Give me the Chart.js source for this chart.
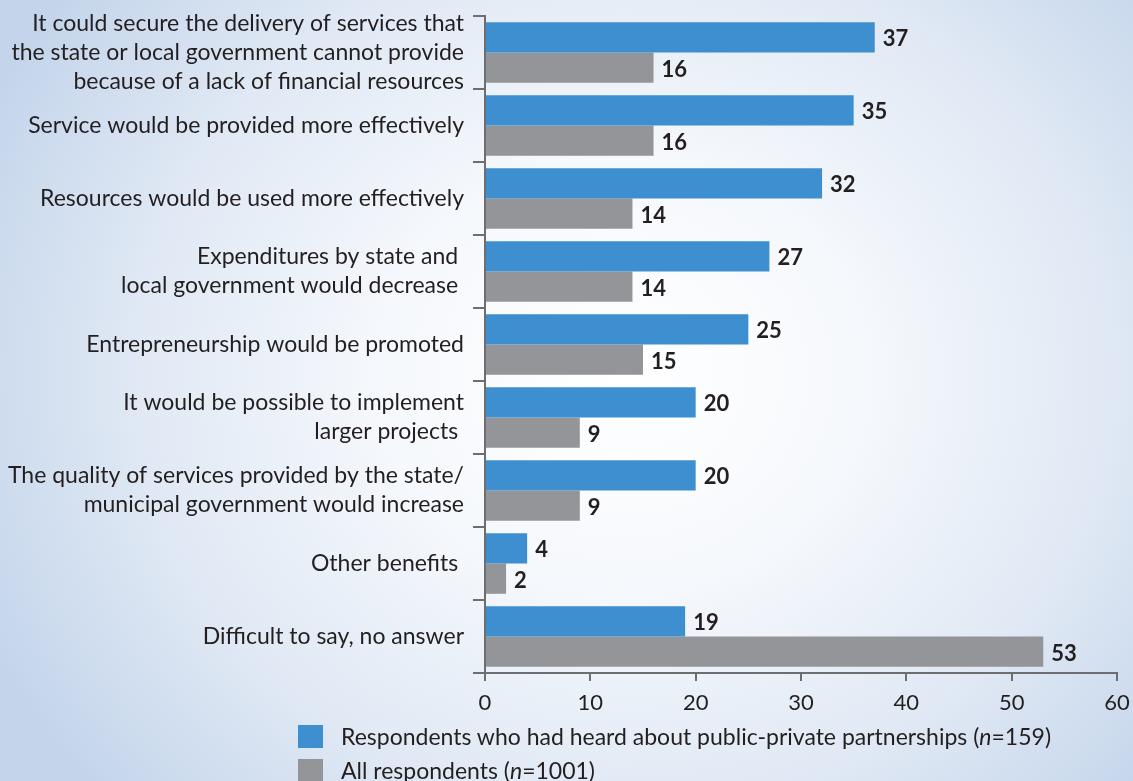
<!DOCTYPE html>
<html>
<head>
<meta charset="utf-8">
<script src="https://cdn.jsdelivr.net/npm/chart.js@4.4.1/dist/chart.umd.min.js"></script>
<style>
    html, body {
        margin: 0;
        padding: 0;
    }
    body {
        width: 1133px;
        height: 781px;
        overflow: hidden;
        position: relative;
        background: radial-gradient(ellipse 62% 80% at 55% 48%, #ffffff 0%, #f5f8fc 35%, #dfe8f4 70%, #c4d5eb 100%);
        font-family: Lato, sans-serif;
        color: #231f20;
    }
    #wrap {
        position: absolute;
        left: 0;
        top: 0;
        width: 1133px;
        height: 781px;
    }
    #legend {
        position: absolute;
        left: 298px;
        top: 719px;
        font-size: 23px;
    }
    .legend-row {
        display: flex;
        align-items: center;
        height: 34px;
    }
    .legend-box {
        width: 25px;
        height: 23px;
        margin-right: 18px;
    }
</style>
</head>
<body>
<div id="wrap"><canvas id="benefitsChart"></canvas></div>
<div id="legend"></div>
<script>
    const categories = [
        ['It could secure the delivery of services that', 'the state or local government cannot provide', 'because of a lack of financial resources'],
        'Service would be provided more effectively',
        'Resources would be used more effectively',
        ['Expenditures by state and ', 'local government would decrease '],
        'Entrepreneurship would be promoted',
        ['It would be possible to implement', 'larger projects '],
        ['The quality of services provided by the state/', 'municipal government would increase'],
        'Other benefits ',
        'Difficult to say, no answer'
    ];

    const heardValues = [37, 35, 32, 27, 25, 20, 20, 4, 19];
    const allValues = [16, 16, 14, 14, 15, 9, 9, 2, 53];

    const xTicks = [0, 10, 20, 30, 40, 50, 60];

    const seriesNames = ['Respondents who had heard about public-private partnerships', 'All respondents'];
    const seriesSizes = [159, 1001];

    const blue = '#3d8fcf';
    const grey = '#939598';
    const axisColor = '#6d6e71';
    const textColor = '#231f20';

    // значения справа от столбиков
    const valueLabels = {
        id: 'valueLabels',
        afterDatasetsDraw(chart) {
            const ctx = chart.ctx;
            ctx.save();
            ctx.font = 'bold 22px Lato, sans-serif';
            ctx.fillStyle = textColor;
            ctx.textAlign = 'left';
            ctx.textBaseline = 'middle';
            chart.data.datasets.forEach((ds, i) => {
                chart.getDatasetMeta(i).data.forEach((bar, j) => {
                    ctx.fillText(String(ds.data[j]), bar.x + 8, bar.y + 2);
                });
            });
            ctx.restore();
        }
    };

    const ctx = document.getElementById('benefitsChart').getContext('2d');
    const chart = new Chart(ctx, {
        type: 'bar',
        data: {
            labels: categories,
            datasets: [
                {
                    label: seriesNames[0],
                    data: heardValues,
                    backgroundColor: blue,
                    borderWidth: 0,
                    categoryPercentage: 0.83,
                    barPercentage: 1.0
                },
                {
                    label: seriesNames[1],
                    data: allValues,
                    backgroundColor: grey,
                    borderWidth: 0,
                    categoryPercentage: 0.83,
                    barPercentage: 1.0
                }
            ]
        },
        options: {
            indexAxis: 'y',
            responsive: true,
            maintainAspectRatio: false,
            animation: false,
            layout: {
                padding: { top: 16, right: 16, bottom: 68, left: 0 }
            },
            scales: {
                x: {
                    min: 0,
                    max: 60,
                    afterBuildTicks: (scale) => {
                        scale.ticks = xTicks.map(v => ({ value: v }));
                    },
                    afterFit: (scale) => {
                        scale.height = 40;
                        scale.paddingLeft = 0;
                        scale.paddingRight = 0;
                    },
                    grid: {
                        drawOnChartArea: false,
                        drawTicks: true,
                        tickLength: 8,
                        color: axisColor,
                        lineWidth: 2
                    },
                    border: { color: axisColor, width: 2 },
                    ticks: {
                        color: textColor,
                        padding: 9,
                        autoSkip: false,
                        maxRotation: 0,
                        font: { family: 'Lato', size: 22 }
                    }
                },
                y: {
                    afterFit: (scale) => {
                        scale.width = 485;
                        scale.paddingTop = 0;
                        scale.paddingBottom = 0;
                    },
                    grid: {
                        offset: true,
                        drawOnChartArea: false,
                        drawTicks: true,
                        tickLength: 12,
                        color: axisColor,
                        lineWidth: 2
                    },
                    border: { color: axisColor, width: 2 },
                    ticks: {
                        color: textColor,
                        padding: 9,
                        autoSkip: false,
                        font: { family: 'Lato', size: 23, lineHeight: 1.26 }
                    }
                }
            },
            plugins: {
                legend: { display: false },
                tooltip: { enabled: false }
            }
        },
        plugins: [valueLabels]
    });

    // легенда снизу, с курсивной n
    const legendEl = document.getElementById('legend');
    chart.data.datasets.forEach((ds, i) => {
        const row = document.createElement('div');
        row.className = 'legend-row';
        const box = document.createElement('div');
        box.className = 'legend-box';
        box.style.background = ds.backgroundColor;
        const text = document.createElement('span');
        text.innerHTML = ds.label + ' (<i>n</i>=' + seriesSizes[i] + ')';
        row.appendChild(box);
        row.appendChild(text);
        legendEl.appendChild(row);
    });
</script>
</body>
</html>
